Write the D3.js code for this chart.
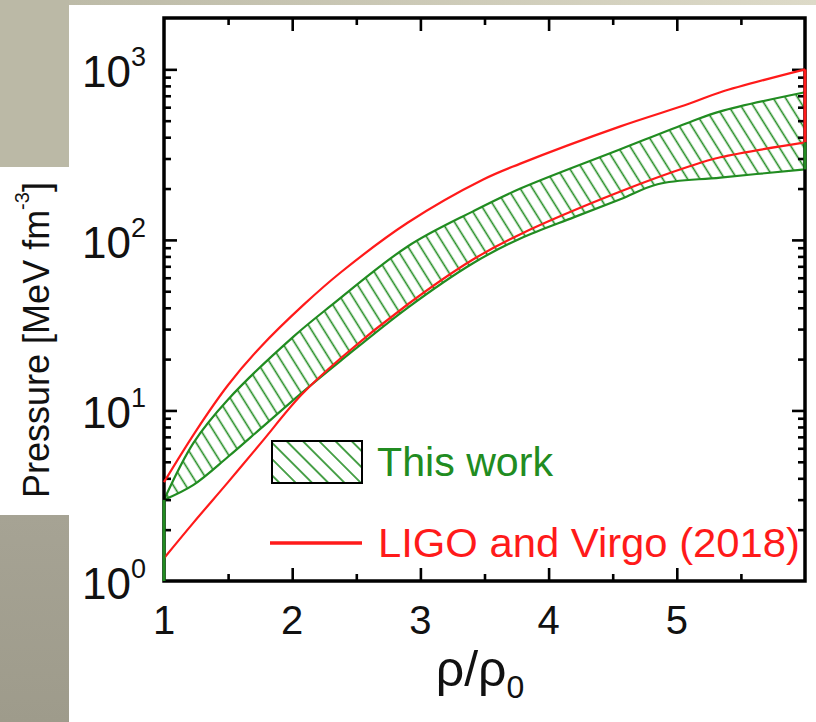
<!DOCTYPE html>
<html><head><meta charset="utf-8">
<script src="https://cdn.jsdelivr.net/npm/d3@7"></script>
<style>body{margin:0;background:#fff} svg{display:block;font-family:"Liberation Sans",Arial,sans-serif}</style>
</head><body>
<svg id="c" width="816" height="722"></svg>
<script>
// ---- data ----
const xMajor = [1, 2, 3, 4, 5];
const xMinor = [1.5, 2.5, 3.5, 4.5, 5.5];
const yMajor = [1, 10, 100, 1000];
const yMajorExp = ["0", "1", "2", "3"];
const yMinor = [2,3,4,5,6,7,8,9,20,30,40,50,60,70,80,90,200,300,400,500,600,700,800,900];

const rhoRedUpper = [1, 1.25, 1.5, 1.75, 2.09, 2.38, 2.9, 3.49, 3.78, 4.56, 5.1, 5.34, 6];
const pRedUpper   = [3.8, 7.6, 14.1, 23.4, 41.7, 64.6, 126, 226, 280, 463, 630, 734, 1000];
const rhoRedLower = [1, 1.23, 1.5, 1.76, 2.07, 2.38, 2.9, 3.41, 3.78, 4.56, 5.1, 5.34, 6];
const pRedLower   = [1.36, 2.2, 3.8, 6.5, 12.3, 20.3, 41.8, 76.7, 108, 192, 270, 305, 373];

const rhoBandUpper = [1, 1.23, 1.5, 2.01, 2.3, 2.9, 3.41, 3.78, 4.56, 5.1, 5.34, 6];
const pBandUpper   = [2.99, 6.46, 11.6, 27.1, 41, 91.5, 147, 200, 340, 490, 567, 734];
const rhoBandLower = [1, 1.23, 1.5, 1.76, 2.07, 2.38, 2.9, 3.41, 3.78, 4.2, 4.56, 4.85, 5.34, 6];
const pBandLower   = [2.99, 3.66, 5.35, 7.9, 12.6, 19.6, 40, 73, 102, 136, 173, 212, 232, 259];

const legendLabels = ["This work", "LIGO and Virgo (2018)"];

// ---- colours ----
const RED = "#ff1a1a", GREEN = "#218c21";

const svg = d3.select("#c");

// slide background pieces
const defs = svg.append("defs");
const g1 = defs.append("linearGradient").attr("id","topg").attr("x1","0").attr("x2","1").attr("y1","0").attr("y2","0");
g1.append("stop").attr("offset","0").attr("stop-color","#bab8a5");
g1.append("stop").attr("offset","1").attr("stop-color","#dddac8");
const g2 = defs.append("linearGradient").attr("id","botg").attr("x1","0").attr("x2","0").attr("y1","0").attr("y2","1");
g2.append("stop").attr("offset","0").attr("stop-color","#a6a394");
g2.append("stop").attr("offset","1").attr("stop-color","#9e9b8b");
svg.append("rect").attr("x",0).attr("y",0).attr("width",816).attr("height",5).attr("fill","url(#topg)");
svg.append("rect").attr("x",0).attr("y",0).attr("width",69).attr("height",167).attr("fill","#bbb9a6");
svg.append("rect").attr("x",0).attr("y",515).attr("width",69).attr("height",207).attr("fill","url(#botg)");

// hatch patterns
function hatch(id, angle, spacing){
  const p = defs.append("pattern").attr("id",id).attr("patternUnits","userSpaceOnUse")
    .attr("width",spacing).attr("height",spacing).attr("patternTransform",`rotate(${angle})`);
  p.append("line").attr("x1",spacing/2).attr("x2",spacing/2).attr("y1",-2).attr("y2",spacing+2)
    .attr("stroke",GREEN).attr("stroke-width",1.6);
}
hatch("hBand", -32, 10.5);
hatch("hLeg", -45, 11.5);

// ---- scales ----
const L = 164, R = 805, T = 18, B = 581;
const x = d3.scaleLinear().domain([1, 6]).range([L, R]);
const y = d3.scaleLog().domain([1, 2000]).range([B, T]);

// ---- band ----
const up = rhoBandUpper.map((r,i)=>[r,pBandUpper[i]]);
const lo = rhoBandLower.map((r,i)=>[r,pBandLower[i]]);
const line = d3.line().x(d=>x(d[0])).y(d=>y(d[1])).curve(d3.curveCatmullRom.alpha(0.5));
const upPath = line(up);
const loRevPath = line(lo.slice().reverse());
const bandD = upPath + "L" + loRevPath.slice(1) + "Z";
svg.append("path").attr("d", bandD).attr("fill","url(#hBand)").attr("stroke","none");
svg.append("path").attr("d", upPath).attr("fill","none").attr("stroke",GREEN).attr("stroke-width",2.2);
svg.append("path").attr("d", line(lo)).attr("fill","none").attr("stroke",GREEN).attr("stroke-width",2.2);

// ---- frame & axes ----
svg.append("rect").attr("x",L).attr("y",T).attr("width",R-L).attr("height",B-T)
  .attr("fill","none").attr("stroke","#000").attr("stroke-width",3.5);

function ax(gen, tr, vals, size){
  const g = svg.append("g").attr("transform",tr)
    .call(gen.tickValues(vals).tickSizeInner(size).tickSizeOuter(0).tickFormat(""));
  g.select(".domain").remove();
  g.selectAll(".tick line").attr("stroke","#000").attr("stroke-width",2.6);
  return g;
}
ax(d3.axisLeft(y), `translate(${L},0)`, yMajor.slice(1), -13);
ax(d3.axisLeft(y), `translate(${L},0)`, yMinor, -7);
ax(d3.axisRight(y), `translate(${R},0)`, yMajor.slice(1), -13);
ax(d3.axisRight(y), `translate(${R},0)`, yMinor, -7);
ax(d3.axisBottom(x), `translate(0,${B})`, xMajor.slice(1), -13);
ax(d3.axisBottom(x), `translate(0,${B})`, xMinor, -7);
ax(d3.axisTop(x), `translate(0,${T})`, xMajor.slice(1), -13);
ax(d3.axisTop(x), `translate(0,${T})`, xMinor, -7);

// y labels
const yl = svg.append("g").selectAll("text").data(yMajor).join("text")
  .attr("x", 146).attr("y", d=>y(d)+18).attr("text-anchor","end")
  .attr("font-size",44).attr("fill","#111");
yl.append("tspan").text("10");
yl.append("tspan").attr("font-size",27).attr("dy",-21).text((d,i)=>yMajorExp[i]);

// x labels
svg.append("g").selectAll("text").data(xMajor).join("text")
  .attr("x", d=>x(d)).attr("y", 634).attr("text-anchor","middle")
  .attr("font-size",40).attr("fill","#111").text(d=>d);

// axis titles
const xt = svg.append("text").attr("x",480).attr("y",686).attr("text-anchor","middle")
  .attr("font-size",50).attr("fill","#111");
xt.append("tspan").text("ρ/ρ");
xt.append("tspan").attr("font-size",32).attr("dy",12).text("0");

const ytt = svg.append("text").attr("transform","translate(49,340) rotate(-90)")
  .attr("text-anchor","middle").attr("font-size",36).attr("fill","#111");
ytt.append("tspan").text("Pressure [MeV fm");
ytt.append("tspan").attr("font-size",20).attr("dy",-20).text("-3");
ytt.append("tspan").attr("dy",20).text("]");

// ---- red lines ----
const ru = rhoRedUpper.map((r,i)=>[r,pRedUpper[i]]);
const rl = rhoRedLower.map((r,i)=>[r,pRedLower[i]]);
svg.append("path").attr("d", line(ru)).attr("fill","none").attr("stroke",RED).attr("stroke-width",2.2);
svg.append("path").attr("d", line(rl)).attr("fill","none").attr("stroke",RED).attr("stroke-width",2.2);
// right edge of LIGO band
svg.append("line").attr("x1",x(6)).attr("x2",x(6))
  .attr("y1",y(pRedUpper[pRedUpper.length-1])).attr("y2",y(pRedLower[pRedLower.length-1]))
  .attr("stroke",RED).attr("stroke-width",3);
// edges of band on axes
svg.append("line").attr("x1",x(6)).attr("x2",x(6))
  .attr("y1",y(pRedLower[pRedLower.length-1])).attr("y2",y(pBandLower[pBandLower.length-1]))
  .attr("stroke",GREEN).attr("stroke-width",3);
svg.append("line").attr("x1",x(1)).attr("x2",x(1))
  .attr("y1",y(1)).attr("y2",y(pBandLower[0]))
  .attr("stroke",GREEN).attr("stroke-width",3);

// ---- legend ----
svg.append("rect").attr("x",272).attr("y",441).attr("width",90).attr("height",42)
  .attr("fill","url(#hLeg)").attr("stroke","#000").attr("stroke-width",2);
svg.append("text").attr("x",377).attr("y",476).attr("font-size",41).attr("fill",GREEN)
  .attr("textLength",176).attr("lengthAdjust","spacingAndGlyphs").text(legendLabels[0]);
svg.append("line").attr("x1",270).attr("x2",362).attr("y1",543).attr("y2",543)
  .attr("stroke",RED).attr("stroke-width",3.5);
svg.append("text").attr("x",378).attr("y",557).attr("font-size",41).attr("fill",RED)
  .attr("textLength",422).attr("lengthAdjust","spacingAndGlyphs").text(legendLabels[1]);
</script>
</body></html>
